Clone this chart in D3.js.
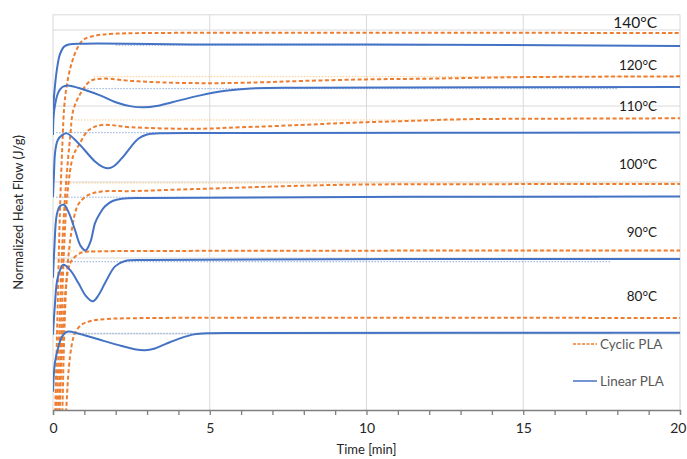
<!DOCTYPE html>
<html><head><meta charset="utf-8">
<script src="https://cdn.jsdelivr.net/npm/d3@7"></script>
<style>body{margin:0;background:#fff}svg text{font-family:Lato,"Open Sans",sans-serif}</style>
</head><body><svg id="c" width="687" height="459"></svg>
<script>
// ---- data: [time (min), normalized heat flow (offset, a.u.)] ----
const linear140 = [[0,3.95],[0.05,4.21],[0.12,4.47],[0.22,4.68],[0.35,4.78],[0.5,4.81],[1,4.82],[5,4.81],[10,4.81],[20,4.79]];
const cyclic140 = [[0.06,-0.2],[0.14,1.2],[0.22,2.6],[0.3,3.5],[0.36,4.0],[0.45,4.3],[0.6,4.57],[0.8,4.78],[1.0,4.88],[1.4,4.93],[1.9,4.95],[3,4.96],[20,4.96]];
const linear120 = [[0,3.62],[0.04,3.95],[0.17,4.18],[0.3,4.25],[0.47,4.27],[0.8,4.24],[1.5,4.14],[2.0,4.05],[2.5,3.995],[2.9,3.983],[3.3,4.0],[3.8,4.05],[4.7,4.14],[5.5,4.2],[6.3,4.23],[8,4.24],[20,4.25]];
const cyclic120 = [[0.1,-0.2],[0.2,1.0],[0.3,2.2],[0.42,3.0],[0.55,3.6],[0.65,3.95],[0.9,4.18],[1.2,4.33],[1.6,4.36],[2.5,4.33],[3.5,4.31],[5,4.3],[6.5,4.31],[8,4.33],[10,4.35],[12,4.36],[15,4.38],[20,4.39]];
const linear110 = [[0,2.8],[0.03,3.1],[0.07,3.4],[0.15,3.55],[0.3,3.62],[0.44,3.64],[0.81,3.51],[1.34,3.27],[1.6,3.195],[1.77,3.18],[1.95,3.21],[2.19,3.31],[2.5,3.47],[2.72,3.57],[3.0,3.625],[3.4,3.64],[5,3.645],[20,3.65]];
const cyclic110 = [[0.16,-0.2],[0.26,1.0],[0.36,2.2],[0.47,2.89],[0.65,3.35],[0.86,3.51],[1.13,3.68],[1.55,3.75],[2.5,3.72],[4.5,3.7],[6,3.72],[7.9,3.75],[9.5,3.78],[11.1,3.8],[13,3.825],[16,3.833],[20,3.838]];
const linear100 = [[0,1.74],[0.04,2.1],[0.12,2.57],[0.22,2.68],[0.35,2.7],[0.5,2.6],[0.7,2.37],[0.88,2.16],[1.04,2.1],[1.2,2.22],[1.34,2.46],[1.5,2.59],[1.66,2.68],[1.9,2.75],[2.19,2.78],[3,2.79],[20,2.81]];
const cyclic100 = [[0.29,-0.2],[0.36,1.0],[0.43,1.7],[0.5,2.05],[0.6,2.37],[0.8,2.7],[1.13,2.83],[1.55,2.875],[2.5,2.88],[4,2.9],[5.5,2.92],[7,2.94],[8.5,2.957],[10,2.967],[13,2.971],[20,2.974]];
const linear90 = [[0,0.99],[0.06,1.38],[0.15,1.74],[0.33,1.91],[0.55,1.84],[0.81,1.67],[1.05,1.5],[1.27,1.43],[1.45,1.51],[1.66,1.67],[1.98,1.89],[2.3,1.96],[3,1.974],[20,1.987]];
const cyclic90 = [[0.2,-0.2],[0.3,0.92],[0.4,1.58],[0.5,1.87],[0.6,1.97],[0.9,2.07],[1.4,2.086],[3,2.092],[20,2.099]];
const linear80 = [[0,0.24],[0.06,0.62],[0.17,0.83],[0.28,0.96],[0.45,1.03],[0.8,1.007],[1.34,0.943],[2.19,0.842],[2.6,0.8],[2.93,0.786],[3.25,0.81],[3.6,0.87],[4.05,0.943],[4.5,0.995],[5,1.01],[6,1.013],[20,1.017]];
const cyclic80 = [[0.4,-0.2],[0.5,0.53],[0.6,0.86],[0.7,1.01],[0.9,1.12],[1.2,1.17],[1.7,1.197],[3,1.21],[20,1.21]];

const linearSeries = [linear140, linear120, linear110, linear100, linear90, linear80];
const cyclicSeries = [cyclic140, cyclic120, cyclic110, cyclic100, cyclic90, cyclic80];

// baselines: [value, tStart, tEnd]
const linearBaselines = [[4.8,2,12],[4.228,1,18],[3.649,0.1,17.4],[2.8,0.1,17.4],[1.951,0.4,17.8],[1.009,0.65,17.8]];
const cyclicBaselines = [[4.386,1.3,20],[3.816,0.7,13],[2.987,0.45,20],[2.092,0.45,20]];

const tempLabels = ["140°C","120°C","110°C","100°C","90°C","80°C"];
const tempLabelValues = [5.02,4.47,3.93,3.17,2.27,1.44];
const xTicks = [0,5,10,15,20];
const legendLabels = ["Cyclic PLA","Linear PLA"];

// ---- drawing ----
const svg = d3.select("#c");
const W = 687, H = 459;
const m = {l:53, r:7, t:14.8, b:49};
const x = d3.scaleLinear().domain([0,20]).range([m.l, W-m.r]);
const y = d3.scaleLinear().domain([0,5.2]).range([H-m.b, m.t]);

svg.append("defs").append("clipPath").attr("id","clip")
  .append("rect").attr("x",x(0)).attr("y",y(5.2)).attr("width",x(20)-x(0)).attr("height",y(0)-y(5.2));

const grid = svg.append("g");
grid.selectAll("line.h").data(d3.range(1,6).concat([5.2])).join("line")
  .attr("x1",x(0)).attr("x2",x(20)).attr("y1",d=>y(d)).attr("y2",d=>y(d))
  .attr("stroke","#d9d9d9").attr("stroke-width",1);
grid.selectAll("line.v").data(xTicks).join("line")
  .attr("x1",d=>x(d)).attr("x2",d=>x(d)).attr("y1",y(0)).attr("y2",y(5.2))
  .attr("stroke","#d9d9d9").attr("stroke-width",1);

const plot = svg.append("g").attr("clip-path","url(#clip)");

plot.selectAll("line.lb").data(linearBaselines).join("line")
  .attr("x1",d=>x(d[1])).attr("x2",d=>x(d[2])).attr("y1",d=>y(d[0])).attr("y2",d=>y(d[0]))
  .attr("stroke","#8faadc").attr("stroke-width",1).attr("stroke-dasharray","1.5,1.5");
plot.selectAll("line.cb").data(cyclicBaselines).join("line")
  .attr("x1",d=>x(d[1])).attr("x2",d=>x(d[2])).attr("y1",d=>y(d[0])).attr("y2",d=>y(d[0]))
  .attr("stroke","#f8cb8a").attr("stroke-width",1).attr("stroke-dasharray","1.5,1.5");

const line = d3.line().x(d=>x(d[0])).y(d=>y(d[1])).curve(d3.curveCatmullRom.alpha(0.5));

plot.selectAll("path.cy").data(cyclicSeries).join("path")
  .attr("d",line).attr("fill","none").attr("stroke","#ed7d31").attr("stroke-width",2)
  .attr("stroke-dasharray","4,2.5");
plot.selectAll("path.li").data(linearSeries).join("path")
  .attr("d",line).attr("fill","none").attr("stroke","#4472c4").attr("stroke-width",2);

const ax = svg.append("g").attr("transform",`translate(0,${y(0)})`)
  .call(d3.axisBottom(x).tickValues(d3.range(0,21)).tickSize(5).tickPadding(8)
    .tickFormat(d=>xTicks.includes(d)?d:""));
ax.select(".domain").attr("stroke","#7f7f7f").attr("stroke-width",1.3);
ax.selectAll(".tick line").attr("stroke","#7f7f7f").attr("stroke-width",1.3);
ax.selectAll(".tick text").attr("font-size",14).attr("fill","#262626")
  .attr("text-anchor",d=>d===20?"end":"middle").attr("dx",d=>d===20?"6":"0");

svg.append("text").attr("x",(x(0)+x(20))/2).attr("y",454).attr("text-anchor","middle")
  .attr("font-size",13).attr("fill","#262626").text("Time [min]");
svg.append("text").attr("transform",`translate(23,${(y(0)+y(5.2))/2}) rotate(-90)`)
  .attr("text-anchor","middle").attr("font-size",13).attr("fill","#262626").text("Normalized Heat Flow (J/g)");

svg.selectAll("text.tl").data(tempLabels).join("text")
  .attr("x",657).attr("y",(d,i)=>y(tempLabelValues[i])).attr("text-anchor","end")
  .attr("font-size",(d,i)=>i===0?15.5:13.5).attr("fill","#1a1a1a").text(d=>d);

const lg = svg.append("g");
const ly = [344, 381];
lg.selectAll("line").data(legendLabels).join("line")
  .attr("x1",573).attr("x2",597).attr("y1",(d,i)=>ly[i]).attr("y2",(d,i)=>ly[i])
  .attr("stroke",(d,i)=>i===0?"#ed7d31":"#4472c4").attr("stroke-width",1.5)
  .attr("stroke-dasharray",(d,i)=>i===0?"3,1.5":null);
lg.selectAll("text").data(legendLabels).join("text")
  .attr("x",600).attr("y",(d,i)=>ly[i]+4.5).attr("font-size",13.5).attr("fill","#595959").text(d=>d);
</script></body></html>
